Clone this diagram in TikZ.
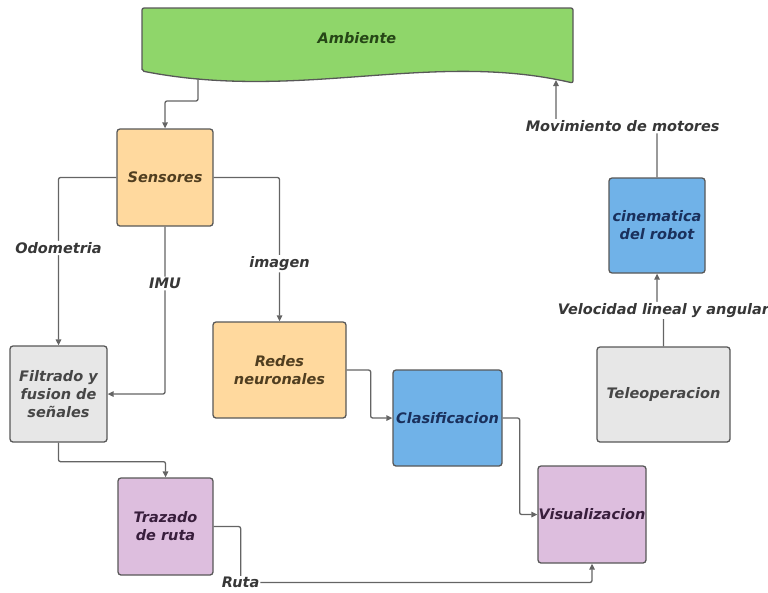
\documentclass[tikz,border=0pt]{standalone}
\usepackage{fontspec}
\setmainfont{DejaVu Sans}
\usetikzlibrary{arrows.meta}

\definecolor{ambfill}{RGB}{143,214,106}
\definecolor{ambtext}{RGB}{38,70,22}
\definecolor{orfill}{RGB}{255,217,158}
\definecolor{ortext}{RGB}{80,62,32}
\definecolor{blfill}{RGB}{112,178,232}
\definecolor{bltext}{RGB}{26,48,92}
\definecolor{grfill}{RGB}{231,231,231}
\definecolor{grtext}{RGB}{70,70,70}
\definecolor{pufill}{RGB}{221,190,222}
\definecolor{putext}{RGB}{56,30,60}
\definecolor{boxline}{RGB}{88,88,88}
\definecolor{lineclr}{RGB}{100,100,100}
\definecolor{lblclr}{RGB}{55,55,55}

\begin{document}
\begin{tikzpicture}[x=1pt,y=-1pt,
    box/.style={draw=boxline,line width=1.3pt,rounded corners=3pt,align=center,
      inner sep=0pt,font=\bfseries\itshape\fontsize{14.5}{18}\selectfont},
    conn/.style={draw=lineclr,line width=1.3pt,rounded corners=2pt,
      -{Triangle[length=6pt,width=5.5pt]}},
    lbl/.style={fill=white,inner sep=1.5pt,text=lblclr,
      font=\bfseries\itshape\fontsize{14.5}{17}\selectfont}]

  \useasboundingbox (0,0) rectangle (768,592);

  % ambiente
  \draw[draw=boxline,line width=1.3pt,fill=ambfill,rounded corners=2pt]
    (142,71) -- (142,8) -- (573,8) -- (573,83)
    .. controls (430,50) and (300,102) .. (142,71) -- cycle;
  \node[box,draw=none,text=ambtext] (amb) at (357,38) {Ambiente};
  \coordinate (ambin)  at (198,78);
  \coordinate (ambout) at (556,80);

  \begin{scope}[every node/.style={box}]
    \node[fill=orfill,text=ortext,minimum width=96pt,minimum height=97pt]  (sensores) at (165,177.5) {Sensores};
    \node[fill=grfill,text=grtext,minimum width=97pt,minimum height=96pt]  (filtrado) at (58.5,394)  {Filtrado y\\fusion de\\señales};
    \node[fill=orfill,text=ortext,minimum width=133pt,minimum height=96pt] (redes)    at (279.5,370) {Redes\\neuronales};
    \node[fill=blfill,text=bltext,minimum width=109pt,minimum height=96pt] (clasif)   at (447.5,418) {Clasificacion};
    \node[fill=pufill,text=putext,minimum width=108pt,minimum height=97pt] (visual)   at (592,514.5) {Visualizacion};
    \node[fill=pufill,text=putext,minimum width=95pt,minimum height=97pt]  (trazado)  at (165.5,526.5) {Trazado\\de ruta};
    \node[fill=blfill,text=bltext,minimum width=96pt,minimum height=95pt]  (cinem)    at (657,225.5) {cinematica\\del robot};
    \node[fill=grfill,text=grtext,minimum width=133pt,minimum height=95pt] (teleop)   at (663.5,394.5) {Teleoperacion};
  \end{scope}

  \begin{scope}[every node/.style={lbl}]
    \draw[conn] (ambin) -- ++(0,23) -| (sensores.north);
    \draw[conn] (sensores.west) -| node[pos=0.71] {Odometria} (filtrado.north);
    \draw[conn] (sensores.south) |- node[pos=0.17] {IMU} (filtrado.east);
    \draw[conn] (sensores.east) -| node[pos=0.8] {imagen} (redes.north);
    \draw[conn] (redes.east) -- ++(24,0) |- (clasif.west);
    \draw[conn] (clasif.east) -- ++(17,0) |- (visual.west);
    \draw[conn] (filtrado.south) -- ++(0,19) -| (trazado.north);
    \draw[conn] (trazado.east) -- ++(27,0) -- ++(0,56) node[inner sep=1pt] {Ruta} -| (visual.south);
    \draw[conn] (cinem.north) -- ++(0,-51) -| node[pos=0.17] {Movimiento de motores} (ambout);
    \draw[conn] (teleop.north) -- ++(0,-36) node {Velocidad lineal y angular} -| (cinem.south);
  \end{scope}

\end{tikzpicture}
\end{document}
